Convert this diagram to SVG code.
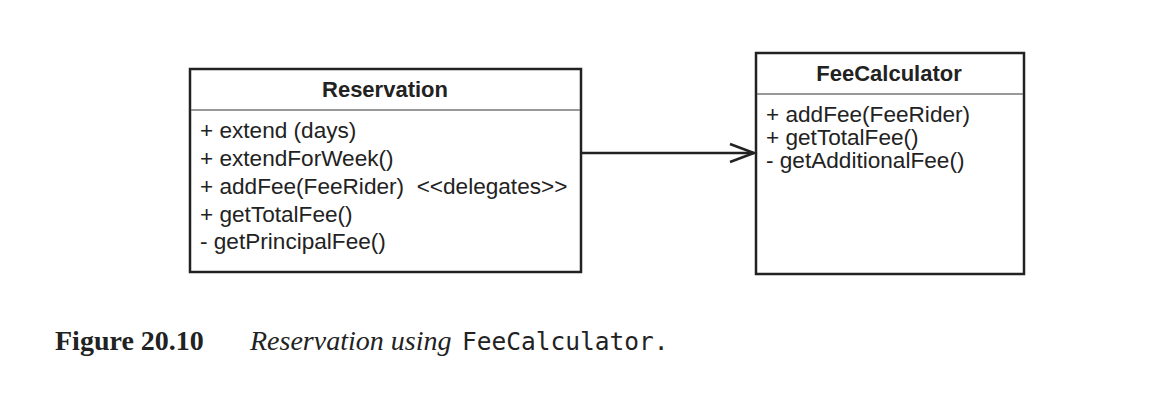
<svg xmlns="http://www.w3.org/2000/svg" width="1174" height="416" viewBox="0 0 1174 416">
<style>
.box{fill:#fff;stroke:#222;stroke-width:2.5}
.div{stroke:#777;stroke-width:1.5}
.title{font-family:"Liberation Sans",Arial,sans-serif;font-weight:bold;font-size:22px;fill:#222;text-anchor:middle}
.body{font-family:"Liberation Sans",Arial,sans-serif;font-size:22.6px;fill:#222}
.conn{fill:none;stroke:#222;stroke-width:2.5}
.cap{font-family:"Liberation Serif","Times New Roman",serif;font-size:28px;fill:#222}
.mono{font-family:"DejaVu Sans Mono","Liberation Mono",monospace;font-size:24.5px;fill:#222}
</style>
<rect width="1174" height="416" fill="#fff"/>
<g id="reservation">
<rect class="box" x="190" y="69" width="391" height="203"/>
<line class="div" x1="191" y1="110" x2="580" y2="110"/>
<text class="title" x="385" y="97">Reservation</text>
<text class="body" x="200" y="138">+ extend (days)</text>
<text class="body" x="200" y="166">+ extendForWeek()</text>
<text class="body" x="200" y="194" xml:space="preserve">+ addFee(FeeRider)  &lt;&lt;delegates&gt;&gt;</text>
<text class="body" x="200" y="222">+ getTotalFee()</text>
<text class="body" x="200" y="249">- getPrincipalFee()</text>
</g>
<g id="feecalculator">
<rect class="box" x="756" y="53" width="268" height="221"/>
<line class="div" x1="757" y1="94" x2="1023" y2="94"/>
<text class="title" x="889" y="81">FeeCalculator</text>
<text class="body" x="766" y="122">+ addFee(FeeRider)</text>
<text class="body" x="766" y="145">+ getTotalFee()</text>
<text class="body" x="766" y="168">- getAdditionalFee()</text>
</g>
<g id="connectors">
<line class="conn" x1="582" y1="153" x2="754" y2="153"/>
<polyline class="conn" points="730,144 754,153 730,162"/>
</g>
<g id="caption">
<text class="cap" x="55" y="350" font-weight="bold">Figure 20.10</text>
<text class="cap" x="250" y="350" font-style="italic">Reservation using</text>
<text class="mono" x="462" y="350">FeeCalculator.</text>
</g>
</svg>
